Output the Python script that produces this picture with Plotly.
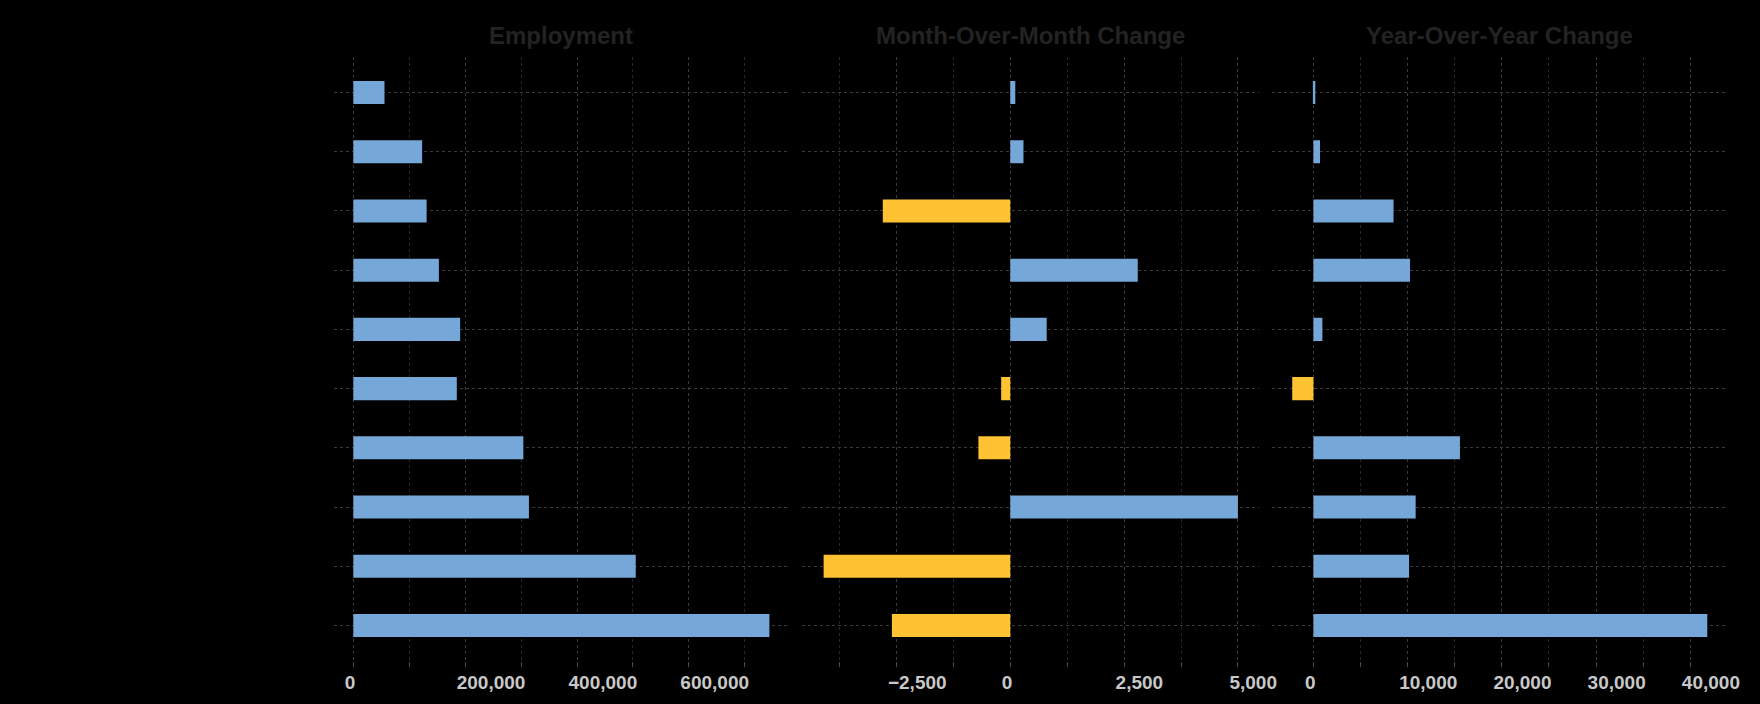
import plotly.graph_objects as go

categories = [
    "Mining and Logging",
    "Information",
    "Other Services",
    "Financial Activities",
    "Construction",
    "Manufacturing",
    "Leisure and Hospitality",
    "Education and Health Services",
    "Professional and Business Services",
    "Trade, Transportation, and Utilities",
]
employment = [55700, 123000, 131000, 153000, 191000, 185000, 304000, 314000, 505000, 744000]
mom_change = [110, 290, -2800, 2800, 800, -200, -700, 5000, -4100, -2600]
yoy_change = [200, 700, 8500, 10250, 950, -2250, 15550, 10850, 10150, 41800]

titles = ["Employment", "Month-Over-Month Change", "Year-Over-Year Change"]

BLUE = "#75A8D8"
YELLOW = "#FFC232"
FONT = "Liberation Sans, Arial, sans-serif"

fig = go.Figure()

series = [employment, mom_change, yoy_change]
for i, vals in enumerate(series):
    colors = [BLUE if v >= 0 else YELLOW for v in vals]
    fig.add_trace(go.Bar(
        x=vals, y=categories, orientation="h",
        marker=dict(color=colors, line=dict(width=0)),
        width=0.39,
        xaxis="x" if i == 0 else f"x{i+1}",
        yaxis="y" if i == 0 else f"y{i+1}",
        showlegend=False,
    ))

domains = [[337/1760, 797/1760], [810/1760, 1272/1760], [1285/1760, 1745/1760]]
ranges = [[-35400, 778800], [-4581, 5463], [-4412, 43907]]
dticks = [200000, 2500, 10000]
minor_dticks = [100000, 1250, 5000]

layout = dict(
    width=1760, height=704,
    paper_bgcolor="#000000", plot_bgcolor="#000000",
    margin=dict(l=0, r=0, t=57, b=43),
    bargap=0.6,
    font=dict(family=FONT),
)

for i in range(3):
    xs = "xaxis" if i == 0 else f"xaxis{i+1}"
    ys = "yaxis" if i == 0 else f"yaxis{i+1}"
    layout[xs] = dict(
        domain=domains[i], range=ranges[i], anchor="y" if i == 0 else f"y{i+1}",
        dtick=dticks[i], tick0=0, tickformat=",",
        showgrid=True, gridcolor="#3a3a3a", griddash="dot", gridwidth=1,
        zeroline=False, showline=False,
        ticks="outside", ticklen=5, tickcolor="#4a4a4a",
        ticklabelposition="outside right", ticklabelshift=-9,
        ticklabelstandoff=4,
        tickfont=dict(family=FONT, size=19, color="#c8c8c8", weight="bold"),
        minor=dict(dtick=minor_dticks[i], tick0=0, showgrid=True, gridcolor="#262626",
                   ticks="outside", ticklen=5, tickcolor="#4a4a4a"),
        fixedrange=True,
    )
    layout[ys] = dict(
        domain=[0, 1], anchor="x" if i == 0 else f"x{i+1}",
        type="category", categoryorder="array", categoryarray=categories,
        range=[9.6, -0.6],
        showgrid=True, gridcolor="#3a3a3a", griddash="dot", gridwidth=1,
        zeroline=False, showline=False,
        showticklabels=(i == 0),
        tickfont=dict(family=FONT, size=14, color="#000000"),
        ticks="",
        fixedrange=True,
    )

annotations = []
for i, t in enumerate(titles):
    annotations.append(dict(
        text=f"<b>{t}</b>", xref="paper", yref="paper",
        x=(domains[i][0] + domains[i][1]) / 2, y=1.0348,
        xanchor="center", yanchor="middle", showarrow=False,
        font=dict(family=FONT, size=24, color="#232323"),
    ))
layout["annotations"] = annotations

fig.update_layout(**layout)
fig.write_html(
    "out.html",
    config={"displayModeBar": False},
    post_script=(
        "document.documentElement.style.margin='0';"
        "document.documentElement.style.overflow='hidden';"
        "document.documentElement.style.background='#000';"
        "document.body.style.margin='0';"
        "document.body.style.overflow='hidden';"
        "document.body.style.background='#000';"
    ),
)
